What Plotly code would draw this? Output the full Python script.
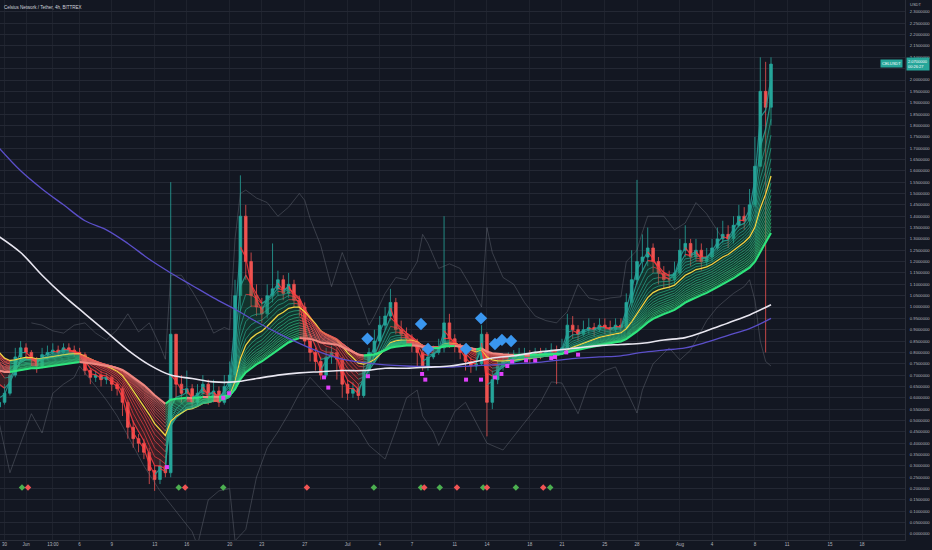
import plotly.graph_objects as go
from datetime import datetime, timedelta

# ---------------- data (12h bars) ----------------
title_text = "Celsius Network / Tether, 4h, BITTREX"
start = datetime(2020, 5, 29, 12)
bar = timedelta(hours=12)
first_open = 0.56

close = [0.58, 0.62, 0.70, 0.78, 0.82, 0.80, 0.77, 0.74, 0.79, 0.80,
         0.81, 0.80, 0.82, 0.81, 0.80, 0.79, 0.72, 0.69, 0.70, 0.68,
         0.69, 0.66, 0.64, 0.58, 0.47, 0.42, 0.40, 0.36, 0.28, 0.24,
         0.30, 0.27, 0.88, 0.66, 0.62, 0.64, 0.58, 0.62, 0.66, 0.60,
         0.63, 0.58, 0.65, 0.70, 1.05, 1.40, 1.20, 1.05, 1.00, 0.97,
         1.05, 1.08, 1.12, 1.06, 1.10, 1.03, 1.00, 0.85, 0.80, 0.76,
         0.70, 0.78, 0.80, 0.77, 0.66, 0.62, 0.64, 0.61, 0.72, 0.80,
         0.85, 0.92, 0.96, 1.02, 0.90, 0.88, 0.86, 0.84, 0.80, 0.74,
         0.78, 0.80, 0.82, 0.93, 0.86, 0.83, 0.80, 0.76, 0.74, 0.75,
         0.88, 0.58, 0.68, 0.74, 0.76, 0.77, 0.78, 0.79, 0.79, 0.78,
         0.80, 0.79, 0.80, 0.81, 0.80, 0.82, 0.92, 0.90, 0.88, 0.90,
         0.91, 0.90, 0.92, 0.91, 0.90, 0.92, 0.91, 1.02, 1.12, 1.20,
         1.22, 1.26, 1.20, 1.15, 1.12, 1.12, 1.15, 1.25, 1.28, 1.22,
         1.25, 1.20, 1.22, 1.26, 1.30, 1.32, 1.30, 1.36, 1.40, 1.38,
         1.45, 1.62, 1.95, 1.88, 2.07]

high = [0.62, 0.66, 0.74, 0.82, 0.85, 0.84, 0.81, 0.78, 0.82, 0.83,
        0.84, 0.83, 0.84, 0.84, 0.83, 0.82, 0.80, 0.73, 0.72, 0.72,
        0.71, 0.70, 0.67, 0.65, 0.59, 0.50, 0.44, 0.42, 0.38, 0.30,
        0.33, 0.32, 1.55, 0.88, 0.70, 0.72, 0.66, 0.66, 0.70, 0.68,
        0.68, 0.65, 0.70, 0.76, 1.12, 1.58, 1.45, 1.24, 1.10, 1.04,
        1.10, 1.28, 1.16, 1.14, 1.15, 1.12, 1.05, 1.02, 0.88, 0.82,
        0.78, 0.82, 0.83, 0.82, 0.78, 0.68, 0.67, 0.66, 0.76, 0.82,
        0.90, 0.96, 1.00, 1.08, 1.04, 0.94, 0.91, 0.88, 0.86, 0.82,
        0.81, 0.83, 0.86, 1.40, 0.97, 0.88, 0.84, 0.82, 0.78, 0.78,
        0.92, 0.89, 0.72, 0.77, 0.79, 0.80, 0.81, 0.82, 0.82, 0.81,
        0.82, 0.82, 0.82, 0.84, 0.83, 0.86, 0.97, 0.96, 0.92, 0.94,
        0.95, 0.93, 0.95, 0.95, 0.94, 0.95, 0.95, 1.06, 1.25, 1.56,
        1.32, 1.35, 1.28, 1.22, 1.18, 1.16, 1.20, 1.30, 1.36, 1.30,
        1.30, 1.28, 1.26, 1.30, 1.35, 1.38, 1.36, 1.40, 1.45, 1.44,
        1.52, 1.75, 2.10, 2.08, 2.10]

low = [0.54, 0.57, 0.61, 0.69, 0.76, 0.77, 0.74, 0.71, 0.73, 0.77,
       0.78, 0.78, 0.79, 0.79, 0.78, 0.76, 0.70, 0.66, 0.67, 0.65,
       0.66, 0.63, 0.61, 0.52, 0.42, 0.38, 0.36, 0.33, 0.22, 0.19,
       0.22, 0.25, 0.25, 0.60, 0.58, 0.59, 0.55, 0.56, 0.60, 0.57,
       0.58, 0.56, 0.57, 0.63, 0.68, 0.98, 1.12, 1.00, 0.96, 0.93,
       0.95, 1.02, 1.05, 1.03, 1.04, 1.00, 0.96, 0.83, 0.76, 0.72,
       0.68, 0.69, 0.75, 0.68, 0.60, 0.59, 0.60, 0.59, 0.60, 0.70,
       0.78, 0.84, 0.90, 0.94, 0.88, 0.84, 0.83, 0.80, 0.74, 0.72,
       0.72, 0.77, 0.79, 0.80, 0.82, 0.80, 0.77, 0.72, 0.71, 0.72,
       0.74, 0.43, 0.55, 0.66, 0.72, 0.74, 0.75, 0.76, 0.77, 0.75,
       0.77, 0.77, 0.78, 0.79, 0.66, 0.79, 0.81, 0.86, 0.85, 0.87,
       0.88, 0.87, 0.89, 0.88, 0.87, 0.89, 0.89, 0.90, 1.00, 1.10,
       1.15, 1.18, 1.15, 1.10, 1.08, 1.08, 1.10, 1.14, 1.22, 1.18,
       1.20, 1.16, 1.18, 1.20, 1.25, 1.28, 1.26, 1.28, 1.35, 1.34,
       1.36, 1.44, 1.62, 0.80, 1.80]

# ribbon (EMA lengths in 4h bars) and their values at the left edge
ribbon_len = [5, 10, 15, 20, 25, 30, 35, 40, 45, 50, 55, 60, 65, 70, 75, 80, 85, 90, 95, 100]
ribbon_seed = [0.60, 0.66, 0.72, 0.76, 0.78, 0.79, 0.80, 0.80, 0.79, 0.78,
               0.77, 0.76, 0.75, 0.745, 0.74, 0.735, 0.73, 0.725, 0.72, 0.72]

# long moving averages, one value every 4 bars (2 days)
white_ma = [1.31, 1.24, 1.14, 1.05, 0.97, 0.89, 0.81, 0.745, 0.70, 0.685,
            0.67, 0.67, 0.685, 0.70, 0.71, 0.715, 0.72, 0.72, 0.73, 0.73,
            0.735, 0.74, 0.755, 0.775, 0.785, 0.80, 0.81, 0.82, 0.83, 0.835,
            0.84, 0.855, 0.865, 0.895, 0.93, 0.965, 1.01]
purple_ma = [1.70, 1.60, 1.52, 1.45, 1.38, 1.34, 1.28, 1.21, 1.15, 1.095,
             1.04, 0.99, 0.935, 0.885, 0.84, 0.80, 0.77, 0.755, 0.745, 0.74,
             0.738, 0.735, 0.74, 0.745, 0.75, 0.755, 0.765, 0.775, 0.78, 0.785,
             0.80, 0.81, 0.82, 0.845, 0.875, 0.905, 0.95]

# faint grey overlay lines (bar index, value)
grey_a_idx = [6, 8, 10, 12, 14, 16, 18, 20, 22, 24, 26, 28, 30, 31, 32, 34, 36, 38, 40, 42,
              43, 44, 45, 46, 48, 50, 52, 54, 56, 57, 58, 60, 62, 64, 66, 68, 69, 70, 72, 74,
              76, 78, 79, 80, 82, 84, 86, 88, 90, 91, 92, 94, 96, 98, 100, 102, 104, 106, 108, 110,
              112, 114, 116, 117, 119, 120, 121, 124, 126, 128, 130, 132, 134, 135]
grey_a_val = [0.93, 0.92, 0.895, 0.885, 0.92, 0.93, 0.885, 0.855, 0.90, 0.97, 0.89, 0.93, 0.83, 0.77,
              1.14, 1.14, 1.07, 0.99, 0.885, 0.91, 0.90, 1.30, 1.50, 1.515, 1.48, 1.46, 1.40, 1.44,
              1.50, 1.47, 1.39, 1.27, 1.09, 1.24, 1.12, 0.99, 0.92, 0.96, 1.06, 1.13, 1.12, 1.20,
              1.32, 1.28, 1.17, 1.19, 1.17, 1.09, 1.00, 1.35, 1.24, 1.13, 1.10, 1.02, 0.96, 0.94,
              0.93, 0.98, 1.10, 1.04, 1.03, 1.04, 1.045, 1.20, 1.25, 1.33, 1.40, 1.40, 1.34, 1.37,
              1.46, 1.41, 1.34, 1.30]
grey_b_idx = [0, 2, 4, 6, 8, 10, 12, 14, 15, 17, 20, 22, 25, 27, 30, 33, 36, 37, 39, 41,
              43, 44, 46, 48, 50, 52, 54, 56, 58, 60, 62, 64, 67, 69, 72, 74, 76, 78, 79, 81,
              82, 85, 87, 90, 91, 94, 97, 101, 103, 105, 108, 110, 113, 115, 117, 119, 120, 122, 125, 127,
              129, 132, 134, 137, 139, 140, 141, 142, 143, 144]
grey_b_val = [0.49, 0.27, 0.40, 0.53, 0.445, 0.62, 0.66, 0.69, 0.74, 0.68, 0.59, 0.52, 0.39, 0.30,
              0.19, 0.10, 0.01, -0.05, 0.15, 0.19, 0.20, -0.03, 0.02, 0.25, 0.38, 0.45, 0.53, 0.62,
              0.69, 0.64, 0.59, 0.55, 0.47, 0.39, 0.33, 0.46, 0.60, 0.634, 0.52, 0.45, 0.39, 0.54,
              0.58, 0.445, 0.40, 0.37, 0.46, 0.58, 0.67, 0.665, 0.53, 0.665, 0.72, 0.736, 0.634, 0.533,
              0.634, 0.75, 0.82, 0.767, 0.81, 0.94, 1.00, 1.06, 1.09, 1.12, 1.03, 0.85, 0.76, 0.74]

# signal markers (bar index, price)
blue_idx = [68.7, 78.7, 80.0, 87.1, 89.9, 92.5, 93.8, 95.5]
blue_val = [0.86, 0.925, 0.815, 0.815, 0.95, 0.837, 0.855, 0.85]
pink_idx = [31.3, 41.8, 42.9, 60.6, 61.4, 68.8, 78.9, 79.5, 87.1, 89.9, 92.5, 93.7, 94.8, 95.7,
            98.3, 100.0, 103.0, 103.7, 105.8, 108.0]
pink_val = [0.295, 0.60, 0.62, 0.69, 0.645, 0.695, 0.705, 0.68, 0.68, 0.68, 0.69, 0.705, 0.74,
            0.76, 0.765, 0.765, 0.775, 0.78, 0.80, 0.79]
bottom_idx = [4.25, 5.37, 33.5, 34.7, 41.8, 57.4, 69.9, 78.7, 79.3, 82.2, 85.4, 90.3, 91.0,
              96.4, 101.5, 102.8]
bottom_sig = ["buy", "sell", "buy", "sell", "buy", "sell", "buy", "buy", "sell", "buy", "sell",
              "buy", "sell", "buy", "sell", "buy"]

date_ticks = ["2020-05-30", "2020-06-01", "2020-06-03 12:00", "2020-06-06", "2020-06-09",
              "2020-06-13", "2020-06-16", "2020-06-20", "2020-06-23", "2020-06-27",
              "2020-07-01", "2020-07-04", "2020-07-07", "2020-07-11", "2020-07-14",
              "2020-07-18", "2020-07-21", "2020-07-25", "2020-07-28", "2020-08-01",
              "2020-08-04", "2020-08-08", "2020-08-11", "2020-08-15", "2020-08-18"]
date_labels = ["30", "Jun", "13:00", "6", "9", "13", "16", "20", "23", "27", "Jul", "4", "7",
               "11", "14", "18", "21", "25", "28", "Aug", "4", "8", "11", "15", "18"]
last_price_text = "2.0700000"
countdown_text = "00:26:27"
symbol_text = "CELUSDT"

# ---------------- derived ----------------
n = len(close)
times = [start + i * bar for i in range(n)]
opens = [first_open] + close[:-1]


def at(idx):
    return start + timedelta(hours=12 * idx)


def ema(vals, L, seed):
    a = 1 - (1 - 2.0 / (L + 1)) ** 3
    out = [seed]
    for v in vals[1:]:
        out.append(out[-1] + a * (v - out[-1]))
    return out


ribbon = [ema(close, L, s) for L, s in zip(ribbon_len, ribbon_seed)]


def split_runs(t, v, mask):
    xs, ys = [], []
    last = None
    for i in range(len(v) - 1):
        if mask[i]:
            if last == i:
                xs.append(t[i + 1]); ys.append(v[i + 1])
            else:
                if xs:
                    xs.append(None); ys.append(None)
                xs += [t[i], t[i + 1]]; ys += [v[i], v[i + 1]]
            last = i + 1
    return xs, ys


def mix(c1, c2, f):
    return tuple(int(round(a + (b - a) * f)) for a, b in zip(c1, c2))


BG = "#131722"
fig = go.Figure()

# ribbon fill (fast vs slow)
fast, slow = ribbon[1], ribbon[-1]
sign = [fast[i] >= slow[i] for i in range(n)]
a = 0
while a < n:
    b = a
    while b + 1 < n and sign[b + 1] == sign[a]:
        b += 1
    e = min(b + 1, n - 1)
    xs = times[a:e + 1] + times[a:e + 1][::-1]
    ys = fast[a:e + 1] + slow[a:e + 1][::-1]
    fig.add_trace(go.Scatter(x=xs, y=ys, mode="lines", fill="toself", line=dict(width=0),
                             fillcolor="rgba(18,105,68,0.33)" if sign[a] else "rgba(135,45,45,0.33)",
                             hoverinfo="skip", showlegend=False))
    a = b + 1

# grey overlay lines
for idx, val in ((grey_a_idx, grey_a_val), (grey_b_idx, grey_b_val)):
    fig.add_trace(go.Scatter(x=[at(i) for i in idx], y=val, mode="lines",
                             line=dict(color="rgba(120,124,136,0.42)", width=0.9),
                             hoverinfo="skip", showlegend=False))

# candles
fig.add_trace(go.Candlestick(x=times, open=opens, high=high, low=low, close=close,
                             increasing=dict(line=dict(color="#26a69a", width=0.8), fillcolor="#26a69a"),
                             decreasing=dict(line=dict(color="#ef5350", width=0.8), fillcolor="#ef5350"),
                             whiskerwidth=0, hoverinfo="skip", showlegend=False))

# ribbon lines
nr = len(ribbon)
yellow_k = 7
for k, line in enumerate(ribbon):
    rising = [line[i + 1] >= line[i] for i in range(n - 1)]
    falling = [not r for r in rising]
    if k == yellow_k:
        fig.add_trace(go.Scatter(x=times, y=line, mode="lines", line=dict(color="#f2d544", width=1.3),
                                 hoverinfo="skip", showlegend=False))
        continue
    if k == nr - 1:
        up_c, dn_c, w = "rgb(46,230,125)", "rgb(240,135,128)", 2.0
    else:
        f = k / (nr - 2)
        up_c = "rgba(%d,%d,%d,0.85)" % mix((38, 160, 150), (55, 205, 120), f)
        dn_c = "rgba(%d,%d,%d,0.85)" % mix((255, 55, 60), (215, 115, 110), f)
        w = 1.2 if k <= 1 else 0.8
    for mask, col in ((rising, up_c), (falling, dn_c)):
        xs, ys = split_runs(times, line, mask)
        fig.add_trace(go.Scatter(x=xs, y=ys, mode="lines", line=dict(color=col, width=w),
                                 hoverinfo="skip", showlegend=False, connectgaps=False))

# long MAs
ma_t = times[::4]
fig.add_trace(go.Scatter(x=ma_t, y=purple_ma, mode="lines", line=dict(color="#5b4fc9", width=1.3, shape="spline"),
                         hoverinfo="skip", showlegend=False))
fig.add_trace(go.Scatter(x=ma_t, y=white_ma, mode="lines", line=dict(color="#e8e6f0", width=1.6, shape="spline"),
                         hoverinfo="skip", showlegend=False))

# markers
fig.add_trace(go.Scatter(x=[at(i) for i in blue_idx], y=blue_val, mode="markers",
                         marker=dict(symbol="diamond", size=9.5, color="#3a96ee"),
                         hoverinfo="skip", showlegend=False))
fig.add_trace(go.Scatter(x=[at(i) for i in pink_idx], y=pink_val, mode="markers",
                         marker=dict(symbol="square", size=4, color="#e040fb"),
                         hoverinfo="skip", showlegend=False))
fig.add_trace(go.Scatter(x=[at(i) for i in bottom_idx], y=[0.205] * len(bottom_idx), mode="markers",
                         marker=dict(symbol="diamond", size=5,
                                     color=["#4caf50" if s == "buy" else "#f05454" for s in bottom_sig]),
                         hoverinfo="skip", showlegend=False))

ytick = [k * 0.05 for k in range(48)]
ytext = ["" if abs(v - 2.05) < 1e-9 else "%.7f" % v for v in ytick]  # hidden behind price tag
fig.update_layout(
    width=932, height=550,
    margin=dict(l=0, r=27, t=0, b=10),
    paper_bgcolor=BG, plot_bgcolor=BG,
    font=dict(family="Liberation Sans", color="#b2b5be", size=4.5),
    showlegend=False,
    xaxis=dict(type="date", range=["2020-05-29 13:47", "2020-08-22 00:00"],
               tickvals=date_ticks, ticktext=date_labels, tickfont=dict(size=4.5, color="#b2b5be"),
               showgrid=True, gridcolor="#1e222d", gridwidth=1, zeroline=False,
               showline=True, linecolor="#2a2e39", ticks="", rangeslider=dict(visible=False),
               fixedrange=True),
    yaxis=dict(side="right", range=[-0.0264, 2.3524], tickvals=ytick,
               ticktext=ytext, tickfont=dict(size=4.2, color="#b2b5be"),
               showgrid=True, gridcolor="#242834", gridwidth=1, zeroline=False,
               showline=True, linecolor="#2a2e39", ticks="", ticklabelstandoff=3, fixedrange=True),
)

fig.add_annotation(xref="paper", yref="paper", x=0.002, y=0.995, xanchor="left", yanchor="top",
                   text=title_text, showarrow=False, font=dict(size=4.5, color="#d1d4dc"))
fig.add_annotation(xref="paper", yref="paper", x=1.0, y=1.0, xanchor="left", yanchor="top", xshift=3,
                   text="USDT", showarrow=False, font=dict(size=4, color="#b2b5be"))
fig.add_annotation(xref="paper", yref="y", x=1.0, y=close[-1], xanchor="left", yanchor="middle", xshift=1,
                   text=last_price_text + "<br>" + countdown_text, showarrow=False, align="left",
                   bgcolor="#26a69a", borderpad=1, font=dict(size=4, color="#ffffff"))
fig.add_annotation(xref="paper", yref="y", x=1.0, y=close[-1], xanchor="right", yanchor="middle", xshift=-2,
                   yshift=1, text=symbol_text, showarrow=False,
                   bgcolor="#26a69a", borderpad=1, font=dict(size=4, color="#ffffff"))

fig.write_html("out.html", config={"displayModeBar": False},
               post_script="document.body.style.margin='0';document.body.style.background='#131722';")
